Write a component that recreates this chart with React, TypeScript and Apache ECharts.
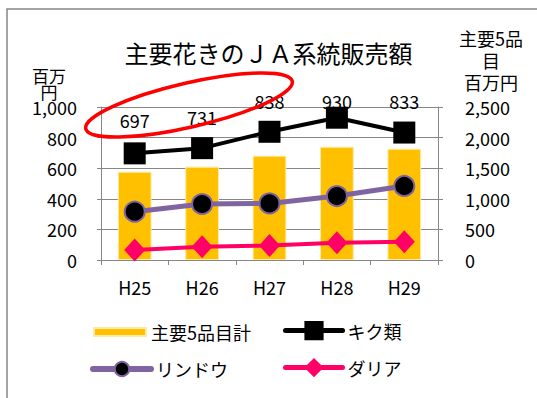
import React, { useEffect, useRef } from "react";
import * as echarts from "echarts";

const categories = ["H25", "H26", "H27", "H28", "H29"];
const total5 = [1443, 1525, 1704, 1851, 1819];
const kiku = [697, 731, 838, 930, 833];
const rindou = [316, 366, 370, 418, 484];
const dahlia = [65, 87, 94, 113, 120];
const leftTicks = { min: 0, max: 1000, interval: 200 };
const rightTicks = { min: 0, max: 2500, interval: 500 };
const leftAxisNameLines = ["百万", "円"];
const rightAxisNameLines = ["主要5品", "目", "百万円"];
// label vertical offsets (style only)
const kikuLabelDy = [-33, -31, -31, -17, -32];

const FONT = "'Noto Sans CJK JP', 'Noto Sans', sans-serif";
const GRAY = "#868686";

export default function App() {
  const ref = useRef<HTMLDivElement>(null);
  useEffect(() => {
    document.body.style.margin = "0";
    const chart = echarts.init(ref.current!, null, { renderer: "svg" });
    const legendBase = {
      orient: "horizontal",
      padding: 0,
      textStyle: { fontSize: 18, color: "#000", fontFamily: FONT },
      selectedMode: false,
    };
    const nameText = (t: string, x: number, y: number, size: number, lh: number) => ({
      type: "text",
      x,
      y,
      style: {
        text: t,
        fontSize: size,
        lineHeight: lh,
        fill: "#000",
        align: "center",
        verticalAlign: "middle",
        fontFamily: FONT,
      },
    });
    const axisLabelBase = {
      fontSize: 18,
      lineHeight: 18,
      color: "#000",
      fontFamily: FONT,
      formatter: (v: number) => v.toLocaleString("en-US"),
    };
    chart.setOption({
      animation: false,
      textStyle: { fontFamily: FONT },
      title: {
        text: "主要花きのＪＡ系統販売額",
        left: "center",
        top: 40,
        padding: 0,
        textStyle: { fontSize: 24, fontWeight: "normal", color: "#000", fontFamily: FONT },
      },
      grid: { left: 101, right: 99, top: 107, bottom: 138, containLabel: false },
      legend: [
        { ...legendBase, data: [{ name: "主要5品目計", icon: "rect" }], left: 93, top: 323, itemWidth: 52, itemHeight: 8 },
        { ...legendBase, data: ["キク類"], left: 283, top: 321, itemWidth: 57, itemHeight: 24, lineStyle: { width: 5, cap: "round" } },
        { ...legendBase, data: ["リンドウ"], left: 90, top: 360, itemWidth: 58, itemHeight: 18, lineStyle: { width: 6, cap: "round" } },
        { ...legendBase, data: ["ダリア"], left: 283, top: 358, itemWidth: 57, itemHeight: 24, lineStyle: { width: 5, cap: "round" } },
      ],
      xAxis: {
        type: "category",
        data: categories,
        axisLine: { show: true, lineStyle: { color: GRAY, width: 1 } },
        axisTick: { show: true, length: 5, lineStyle: { color: GRAY } },
        axisLabel: { fontSize: 18, color: "#000", margin: 18, fontFamily: FONT },
      },
      yAxis: [
        {
          type: "value",
          ...leftTicks,
          position: "left",
          axisLine: { show: true, lineStyle: { color: GRAY, width: 1 } },
          axisTick: { show: true, length: 4, lineStyle: { color: GRAY } },
          splitLine: { show: true, lineStyle: { color: GRAY, width: 1 } },
          axisLabel: { ...axisLabelBase, margin: 24 },
        },
        {
          type: "value",
          ...rightTicks,
          position: "right",
          axisLine: { show: true, lineStyle: { color: GRAY, width: 1 } },
          axisTick: { show: true, length: 5, lineStyle: { color: GRAY } },
          splitLine: { show: false },
          axisLabel: { ...axisLabelBase, margin: 27 },
        },
      ],
      series: [
        {
          name: "主要5品目計",
          type: "bar",
          yAxisIndex: 1,
          data: total5,
          barWidth: "50%",
          itemStyle: { color: "#FFC000", borderColor: "#FFE9A8", borderWidth: 1 },
          z: 1,
        },
        {
          name: "リンドウ",
          type: "line",
          yAxisIndex: 0,
          data: rindou,
          symbol: "circle",
          symbolSize: 20,
          lineStyle: { color: "#8064A2", width: 5, cap: "round" },
          itemStyle: { color: "#000", borderColor: "#8064A2", borderWidth: 2 },
          z: 3,
        },
        {
          name: "ダリア",
          type: "line",
          yAxisIndex: 0,
          data: dahlia,
          symbol: "diamond",
          symbolSize: [21, 23],
          lineStyle: { color: "#FF0066", width: 4, cap: "round" },
          itemStyle: { color: "#FF0066" },
          z: 3,
        },
        {
          name: "キク類",
          type: "line",
          yAxisIndex: 0,
          data: kiku.map((v, i) => ({
            value: v,
            label: { offset: [0, kikuLabelDy[i]] },
          })),
          symbol: "rect",
          symbolSize: 22,
          lineStyle: { color: "#000", width: 4, cap: "round" },
          itemStyle: { color: "#000" },
          label: {
            show: true,
            position: "inside",
            fontSize: 18,
            lineHeight: 18,
            color: "#000",
            fontFamily: FONT,
          },
          z: 4,
        },
      ],
      graphic: [
        {
          type: "rect",
          shape: { x: 7, y: 9, width: 560, height: 420 },
          style: { fill: "none", stroke: GRAY, lineWidth: 1.5 },
          silent: true,
        },
        nameText(leftAxisNameLines[0], 49, 75, 17, 16),
        nameText(leftAxisNameLines[1], 49, 91, 17, 16),
        nameText(rightAxisNameLines[0], 491, 38, 18, 20),
        nameText(rightAxisNameLines[1], 491, 60, 18, 20),
        nameText(rightAxisNameLines[2], 491, 82, 18, 20),
        {
          type: "ellipse",
          x: 189,
          y: 105,
          rotation: (13 * Math.PI) / 180,
          shape: { cx: 0, cy: 0, rx: 106, ry: 22 },
          style: { fill: "none", stroke: "#FF0000", lineWidth: 3.5 },
          z: 100,
        },
      ],
    });
    return () => chart.dispose();
  }, []);
  return <div ref={ref} style={{ width: 537, height: 398 }} />;
}
